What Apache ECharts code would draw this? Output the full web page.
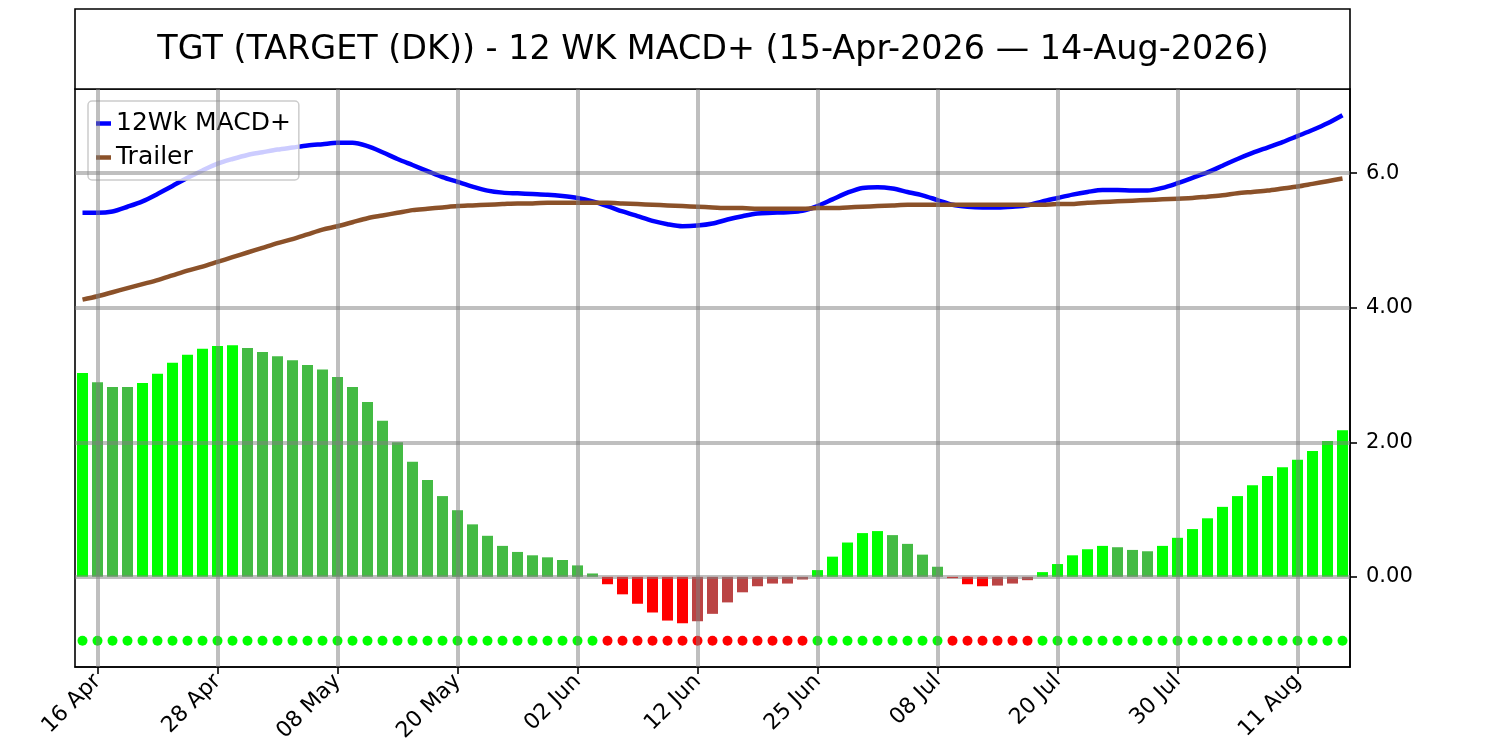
<!DOCTYPE html>
<html>
<head>
	<meta charset="utf-8">
	<title>TGT 12 WK MACD+</title>
	<script src="https://cdn.jsdelivr.net/npm/echarts@6/dist/echarts.min.js"></script>
	<style>
		html, body { margin: 0; padding: 0; background: #fff; }
	</style>
</head>
<body>
	<div id="main" style="width: 1500px;height: 750px;"></div>
	<script>
		// trading days 15-Apr-2026 .. 14-Aug-2026
		var dates = [
			'15 Apr','16 Apr','17 Apr','20 Apr','21 Apr','22 Apr','23 Apr','24 Apr','27 Apr','28 Apr','29 Apr','30 Apr',
			'01 May','04 May','05 May','06 May','07 May','08 May','11 May','12 May','13 May','14 May','15 May','18 May','19 May','20 May',
			'21 May','22 May','26 May','27 May','28 May','29 May',
			'01 Jun','02 Jun','03 Jun','04 Jun','05 Jun','08 Jun','09 Jun','10 Jun','11 Jun','12 Jun','15 Jun','16 Jun','17 Jun','18 Jun',
			'22 Jun','23 Jun','24 Jun','25 Jun','26 Jun','29 Jun','30 Jun',
			'01 Jul','02 Jul','06 Jul','07 Jul','08 Jul','09 Jul','10 Jul','13 Jul','14 Jul','15 Jul','16 Jul','17 Jul','20 Jul',
			'21 Jul','22 Jul','23 Jul','24 Jul','27 Jul','28 Jul','29 Jul','30 Jul','31 Jul',
			'03 Aug','04 Aug','05 Aug','06 Aug','07 Aug','10 Aug','11 Aug','12 Aug','13 Aug','14 Aug'
		];

		// 12Wk MACD+ line
		var macd = [
			5.41,5.41,5.43,5.50,5.58,5.69,5.81,5.93,6.04,6.14,6.21,6.27,6.31,6.35,6.38,6.41,6.43,6.45,6.45,6.40,
			6.31,6.21,6.12,6.03,5.94,5.87,5.80,5.74,5.71,5.70,5.69,5.68,5.66,5.63,5.58,5.51,5.43,5.36,5.29,5.24,
			5.21,5.22,5.25,5.31,5.36,5.40,5.41,5.42,5.44,5.51,5.61,5.71,5.78,5.79,5.77,5.72,5.67,5.60,5.53,5.50,
			5.49,5.49,5.50,5.52,5.58,5.63,5.68,5.72,5.75,5.75,5.74,5.74,5.78,5.85,5.93,6.01,6.11,6.21,6.30,6.38,
			6.46,6.55,6.64,6.74,6.86
		];

		// Trailer line
		var trailer = [
			4.12,4.17,4.23,4.29,4.35,4.41,4.48,4.55,4.61,4.68,4.75,4.82,4.89,4.96,5.02,5.09,5.16,5.21,5.27,5.33,
			5.37,5.41,5.45,5.47,5.49,5.51,5.52,5.53,5.54,5.55,5.55,5.56,5.56,5.56,5.56,5.56,5.55,5.54,5.53,5.52,
			5.51,5.50,5.49,5.48,5.48,5.47,5.47,5.47,5.47,5.48,5.48,5.49,5.50,5.51,5.52,5.53,5.53,5.53,5.53,5.53,
			5.53,5.53,5.53,5.53,5.53,5.54,5.54,5.56,5.57,5.58,5.59,5.60,5.61,5.62,5.63,5.65,5.67,5.70,5.72,5.74,
			5.77,5.80,5.84,5.88,5.92
		];

		// histogram bars
		var hist = [
			3.03,2.89,2.82,2.82,2.88,3.02,3.18,3.30,3.39,3.43,3.44,3.40,3.34,3.28,3.22,3.15,3.08,2.97,2.82,2.60,
			2.32,2.00,1.71,1.44,1.20,0.99,0.78,0.61,0.46,0.37,0.32,0.29,0.25,0.17,0.05,-0.11,-0.26,-0.40,-0.53,-0.65,
			-0.69,-0.66,-0.55,-0.38,-0.23,-0.14,-0.10,-0.10,-0.04,0.10,0.30,0.51,0.65,0.68,0.62,0.49,0.33,0.15,-0.02,-0.11,
			-0.14,-0.13,-0.10,-0.05,0.07,0.19,0.32,0.41,0.46,0.44,0.40,0.38,0.46,0.58,0.71,0.87,1.04,1.20,1.36,1.50,
			1.63,1.74,1.87,2.02,2.18
		];

		// level of the signal dots under the bars
		var signalLevel = -0.95;

		var yTickValues = [0, 2, 4, 6];
		var yTickLabels = ['0.00', '2.00', '4.00', '6.0'];

		var titleText = 'TGT (TARGET (DK)) - 12 WK MACD+ (15-Apr-2026 \u2014 14-Aug-2026)';

		// every 8th trading day gets a label
		function isTick(i) { return (i - 1) % 8 === 0; }
		var tickDates = dates.filter(function (d, i) { return isTick(i); });

		function barColor(i) {
			var v = hist[i];
			var prev = i > 0 ? hist[i - 1] : -Infinity;
			if (v >= 0) return v > prev ? '#00ff00' : '#44bb44';
			return v < prev ? '#ff0000' : '#bb4444';
		}

		var gridColor = 'rgba(128,128,128,0.5)';

		var myCharts = echarts.init(document.getElementById('main'));
		var option = {
			animation: false,
			textStyle: { fontFamily: 'DejaVu Sans' },
			graphic: [
				{
					type: 'rect',
					shape: { x: 75, y: 9, width: 1275, height: 80 },
					style: { fill: '#fff', stroke: '#000', lineWidth: 1.6 }
				},
				{
					type: 'text',
					x: 713, y: 50,
					style: {
						text: titleText,
						font: '33.4px "DejaVu Sans"',
						fill: '#000',
						align: 'center',
						verticalAlign: 'middle'
					}
				}
			],
			legend: {
				left: 88,
				top: 101,
				orient: 'vertical',
				data: [
					{ name: '12Wk MACD+', icon: 'rect' },
					{ name: 'Trailer', icon: 'rect' }
				],
				itemWidth: 15,
				itemHeight: 4.5,
				itemGap: 9,
				padding: [10, 8, 10, 8],
				backgroundColor: 'rgba(255,255,255,0.8)',
				borderColor: '#cccccc',
				borderWidth: 1.5,
				borderRadius: 4,
				textStyle: { fontSize: 25, color: '#000', fontFamily: 'DejaVu Sans' }
			},
			grid: {
				left: 75, right: 150, top: 89, bottom: 83,
				show: true,
				borderColor: '#000',
				borderWidth: 1.6,
				backgroundColor: 'transparent'
			},
			xAxis: {
				type: 'category',
				data: dates,
				boundaryGap: true,
				axisLine: { show: true, onZero: false, lineStyle: { color: '#000', width: 1.6 } },
				axisTick: {
					show: true,
					alignWithLabel: true,
					interval: function (i) { return isTick(i); },
					length: 7,
					lineStyle: { color: '#000', width: 1.6 }
				},
				axisLabel: {
					interval: function (i) { return isTick(i); },
					rotate: 45,
					fontSize: 22,
					color: '#000',
					margin: 11
				},
				splitLine: { show: false }
			},
			yAxis: {
				type: 'value',
				position: 'right',
				min: -1.34,
				max: 7.25,
				axisLine: { show: true, lineStyle: { color: '#000', width: 1.6 } },
				axisTick: {
					show: true,
					customValues: yTickValues,
					length: 7,
					lineStyle: { color: '#000', width: 1.6 }
				},
				axisLabel: {
					customValues: yTickValues,
					formatter: function (v) {
						var k = yTickValues.indexOf(v);
						return k >= 0 ? yTickLabels[k] : '';
					},
					fontSize: 21,
					color: '#000',
					margin: 16
				},
				splitLine: { show: false }
			},
			series: [
				{
					name: 'hist',
					type: 'bar',
					data: hist,
					barWidth: 11,
					z: 1,
					itemStyle: {
						color: function (p) { return barColor(p.dataIndex); }
					}
				},
				{
					// grid lines, drawn over the bars like the reference
					name: 'grid',
					type: 'line',
					data: [],
					z: 2,
					silent: true,
					markLine: {
						silent: true,
						symbol: ['none', 'none'],
						label: { show: false },
						lineStyle: { type: 'solid', color: gridColor, width: 4 },
						emphasis: { disabled: true },
						data: tickDates.map(function (d) { return { xAxis: d }; })
							.concat(yTickValues.map(function (v) { return { yAxis: v }; }))
					}
				},
				{
					name: '12Wk MACD+',
					type: 'line',
					data: macd,
					z: 3,
					smooth: 0.3,
					showSymbol: false,
					itemStyle: { color: '#0000ff' },
					lineStyle: { color: '#0000ff', width: 4.5 }
				},
				{
					name: 'Trailer',
					type: 'line',
					data: trailer,
					z: 3,
					smooth: 0.3,
					showSymbol: false,
					itemStyle: { color: '#8b5129' },
					lineStyle: { color: '#8b5129', width: 4.5 }
				},
				{
					name: 'signal',
					type: 'scatter',
					data: hist.map(function () { return signalLevel; }),
					symbolSize: 10,
					z: 4,
					itemStyle: {
						opacity: 1,
						color: function (p) { return hist[p.dataIndex] >= 0 ? '#00ff00' : '#ff0000'; }
					}
				}
			]
		};
		myCharts.setOption(option);
	</script>
</body>
</html>
